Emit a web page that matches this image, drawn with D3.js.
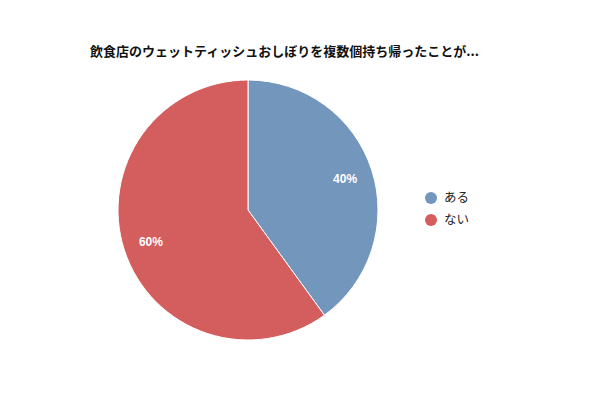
<!DOCTYPE html>
<html>
<head>
<meta charset="utf-8">
<script src="https://cdn.jsdelivr.net/npm/d3@7/dist/d3.min.js"></script>
<style>
  body { margin: 0; background: #fff; }
  svg { display: block; font-family: "Noto Sans CJK JP", "DejaVu Sans", sans-serif; }
</style>
</head>
<body>
<svg id="chart" width="600" height="400"></svg>
<script>
var title = "飲食店のウェットティッシュおしぼりを複数個持ち帰ったことが...";
var categories = ["ある", "ない"];
var values = [40, 60];
var colors = ["#7396bd", "#d45d5d"];

var width = 600, height = 400,
    cx = 248, cy = 210, radius = 130;

var svg = d3.select("#chart");

svg.append("text")
    .attr("x", 90)
    .attr("y", 56)
    .attr("font-size", 13)
    .attr("font-weight", "bold")
    .attr("fill", "#111")
    .text(title);

var data = categories.map(function(c, i){ return {name: c, value: values[i]}; });

var color = d3.scaleOrdinal().domain(categories).range(colors);

var pie = d3.pie()
    .sort(null)
    .value(function(d){ return d.value; });

var arc = d3.arc().innerRadius(0).outerRadius(radius);
var labelArc = d3.arc().innerRadius(radius * 0.785).outerRadius(radius * 0.785);

var g = svg.append("g")
    .attr("transform", "translate(" + cx + "," + cy + ")");

var slices = g.selectAll("g.slice")
    .data(pie(data))
    .enter()
    .append("g")
    .attr("class", "slice");

slices.append("path")
    .attr("d", arc)
    .attr("fill", function(d){ return color(d.data.name); })
    .attr("stroke", "#fff")
    .attr("stroke-width", 1);

var total = d3.sum(values);
slices.append("text")
    .attr("transform", function(d){ return "translate(" + labelArc.centroid(d) + ")"; })
    .attr("text-anchor", "middle")
    .attr("dy", "0.35em")
    .attr("font-family", "'Liberation Sans', Arial, sans-serif")
    .attr("font-size", 12)
    .attr("font-weight", "bold")
    .attr("fill", "#fff")
    .text(function(d){ return Math.round(d.data.value / total * 100) + "%"; });

// legend
var legend = svg.append("g")
    .attr("transform", "translate(431,198)");

var item = legend.selectAll("g")
    .data(categories)
    .enter()
    .append("g")
    .attr("transform", function(d, i){ return "translate(0," + (i * 22) + ")"; });

item.append("circle")
    .attr("r", 6)
    .attr("fill", function(d){ return color(d); });

item.append("text")
    .attr("x", 13)
    .attr("dy", "0.35em")
    .attr("font-size", 12.5)
    .attr("fill", "#222")
    .text(function(d){ return d; });
</script>
</body>
</html>
